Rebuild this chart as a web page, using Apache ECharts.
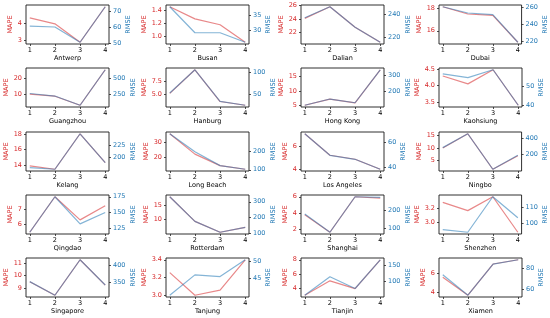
<!DOCTYPE html>
<html><head><meta charset="utf-8">
<script src="https://cdn.jsdelivr.net/npm/echarts@6/dist/echarts.min.js"></script>
<style>html,body{margin:0;padding:0;background:#fff}#c{width:550px;height:318px}</style>
</head><body><div id="c"></div>
<script>
const ports = ['Antwerp','Busan','Dalian','Dubai','Guangzhou','Hanburg','Hong Kong','Kaohsiung','Kelang','Long Beach','Los Angeles','Ningbo','Qingdao','Rotterdam','Shanghai','Shenzhen','Singapore','Tanjung','Tianjin','Xiamen'];
const steps = [1, 2, 3, 4];
const xTickLabels = ['1', '2', '3', '4'];
const mape = [
  [4.31, 3.96, 2.87, 4.97],
  [1.46, 1.272, 1.18, 0.908],
  [24.1, 25.8, 22.8, 20.6],
  [18.1, 17.47, 17.34, 15.0],
  [10.0, 8.7, 3.0, 25.4],
  [5.25, 9.7, 3.7, 3.0],
  [5.0, 7.1, 5.8, 17.3],
  [4.29, 4.05, 4.48, 3.4],
  [13.87, 13.43, 18.08, 14.3],
  [35.2, 22.3, 15.0, 12.7],
  [7.05, 5.2, 4.86, 4.0],
  [10.0, 15.7, 1.4, 6.8],
  [5.44, 7.82, 6.27, 7.22],
  [18.2, 9.4, 5.5, 7.25],
  [3.8, 1.66, 6.0, 5.84],
  [3.278, 3.163, 3.357, 2.86],
  [9.49, 8.4, 11.27, 9.22],
  [3.255, 3.0, 3.057, 3.4],
  [2.95, 5.0, 3.9, 8.0],
  [5.54, 3.64, 6.95, 7.4]
];
const rmse = [
  [60.6, 60.0, 50.6, 72.5],
  [37.8, 29.0, 29.0, 25.8],
  [237.1, 246.8, 228.8, 215.6],
  [260.3, 253, 251, 218.8],
  [260, 220, 75, 634],
  [53, 106, 34, 25],
  [108, 148, 124, 337],
  [56.6, 54.6, 58.8, 40],
  [179.2, 175.8, 248.4, 189.3],
  [290, 195, 122, 103],
  [67.4, 49.6, 46.3, 38.1],
  [284, 451, 24, 192],
  [118.7, 175, 132, 150],
  [332, 175, 106, 137],
  [181, 77, 279, 276],
  [96.2, 94.5, 116.9, 103.6],
  [352, 311, 418, 342],
  [40.2, 46, 45.5, 50.3],
  [55, 113, 76, 166],
  [73.6, 53.9, 83.8, 87.9]
];
const mapeTicks = [
  ['3','4'], ['1.0','1.2','1.4'], ['22','24','26'], ['16','18'],
  ['10','20'], ['5.0','7.5'], ['5','10','15'], ['3.5','4.0','4.5'],
  ['14','16','18'], ['20','30'], ['4','6'], ['5','10','15'],
  ['6','7'], ['10','15'], ['2','4','6'], ['3.0','3.2'],
  ['9','10','11'], ['3.0','3.2','3.4'], ['4','6','8'], ['4','6']
];
const rmseTicks = [
  ['50','60','70'], ['30','35'], ['220','240'], ['220','240','260'],
  ['250','500'], ['50','100'], ['200','300'], ['40','50','60'],
  ['200','225'], ['100','200'], ['40','60'], ['200','400'],
  ['125','150','175'], ['100','200','300'], ['100','200'], ['100','110'],
  ['350','400'], ['45','50'], ['100','150'], ['60','80']
];

const FONT = 'DejaVu Sans';
const FS = 6.5;
const RED = '#d62728', BLUE = '#1f77b4';
const RED_LINE = 'rgba(214,39,40,0.55)', BLUE_LINE = 'rgba(31,119,180,0.55)';
const lefts = [26, 166, 301, 439];
const tops = [5, 68, 132, 195, 258];
const GW = 83, GH = 39;
const LM = 4;

const mctx = document.createElement('canvas').getContext('2d');
mctx.font = FS + 'px "' + FONT + '"';
const tw = s => mctx.measureText(s).width;
const lim = arr => {
  const mn = Math.min(...arr), mx = Math.max(...arr), r = (mx - mn) || 1;
  return [mn - 0.05 * r, mx + 0.05 * r];
};
const decimals = labels => Math.max(...labels.map(s => (s.split('.')[1] || '').length));

const grid = [], xAxis = [], yAxis = [], series = [];
ports.forEach((p, i) => {
  const r = Math.floor(i / 4), c = i % 4;
  grid.push({left: lefts[c], top: tops[r], width: GW, height: GH, show: true,
    borderColor: '#1a1a1a', borderWidth: 0.9, backgroundColor: 'transparent'});
  xAxis.push({
    type: 'value', gridIndex: i, min: 0.85, max: 4.15,
    name: p, nameLocation: 'middle', nameGap: 11,
    nameTextStyle: {fontFamily: FONT, fontSize: FS, color: '#000'},
    axisLine: {show: false, onZero: false},
    axisTick: {show: true, length: 2, customValues: steps, lineStyle: {color: '#222', width: 0.8}},
    axisLabel: {customValues: steps, margin: 3, fontFamily: FONT, fontSize: FS, color: '#000',
      formatter: v => xTickLabels[steps.indexOf(v)] ?? String(v)},
    splitLine: {show: false}
  });
  const axes = [
    {data: mape[i], ticks: mapeTicks[i], name: 'MAPE', pos: 'left', color: RED},
    {data: rmse[i], ticks: rmseTicks[i], name: 'RMSE', pos: 'right', color: BLUE}
  ];
  axes.forEach(a => {
    const [mn, mx] = lim(a.data);
    const vals = a.ticks.map(Number);
    const dec = decimals(a.ticks);
    const wmax = Math.max(...a.ticks.map(tw));
    yAxis.push({
      type: 'value', gridIndex: i, position: a.pos, min: mn, max: mx,
      name: a.name, nameLocation: 'middle', nameRotate: 90, nameGap: LM + wmax + 4,
      nameTextStyle: {fontFamily: FONT, fontSize: FS, color: a.color},
      axisLine: {show: false, onZero: false},
      axisTick: {show: true, length: 2, customValues: vals, lineStyle: {color: '#222', width: 0.8}},
      axisLabel: {customValues: vals, margin: LM, fontFamily: FONT, fontSize: FS, color: a.color,
        formatter: v => Number(v).toFixed(dec)},
      splitLine: {show: false}
    });
  });
  series.push({
    type: 'line', xAxisIndex: i, yAxisIndex: 2 * i, symbol: 'none', silent: true,
    data: steps.map((x, k) => [x, mape[i][k]]),
    lineStyle: {color: RED_LINE, width: 1.2}
  });
  series.push({
    type: 'line', xAxisIndex: i, yAxisIndex: 2 * i + 1, symbol: 'none', silent: true,
    data: steps.map((x, k) => [x, rmse[i][k]]),
    lineStyle: {color: BLUE_LINE, width: 1.2}
  });
});

const chart = echarts.init(document.getElementById('c'), null, {renderer: 'canvas'});
chart.setOption({animation: false, backgroundColor: '#fff', grid, xAxis, yAxis, series});
</script>
</body></html>
